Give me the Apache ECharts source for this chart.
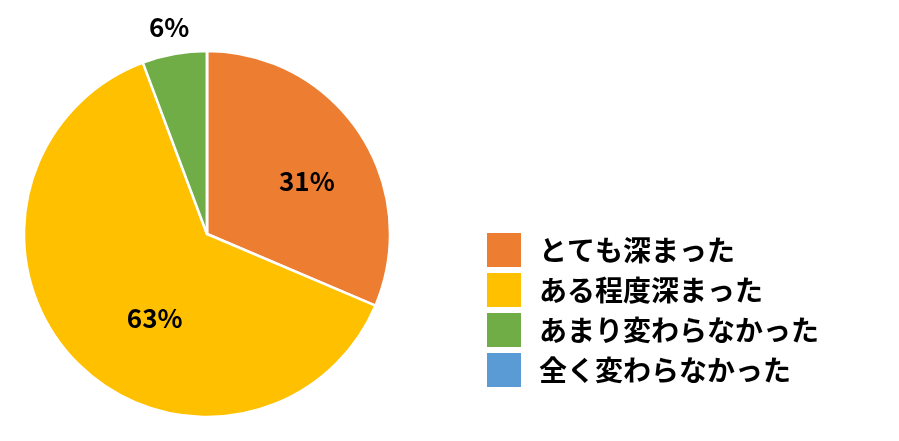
<!DOCTYPE html>
<html>
<head>
<meta charset="utf-8">
<script src="https://cdn.jsdelivr.net/npm/echarts@6/dist/echarts.min.js"></script>
<style>html,body{margin:0;padding:0;background:#fff;}#c{width:899px;height:441px;}</style>
</head>
<body>
<div id="c"></div>
<script>
const categories = ['とても深まった', 'ある程度深まった', 'あまり変わらなかった', '全く変わらなかった'];
const values = [31.4, 62.9, 5.7, 0];
const labelTexts = ['31%', '63%', '6%', ''];
const colors = ['#ED7D31', '#FFC000', '#70AD47', '#5B9BD5'];
const labelOffsets = [[21, -1], [16, 19], [-21, -114], [0, 0]];

const FONT = '"Noto Sans CJK JP", "Noto Sans", sans-serif';
const chart = echarts.init(document.getElementById('c'));
chart.setOption({
  animation: false,
  legend: {
    orient: 'vertical',
    left: 485,
    top: 231,
    padding: 0,
    itemWidth: 36,
    itemHeight: 36,
    itemGap: 2,
    icon: 'rect',
    data: categories,
    textStyle: { fontSize: 28, lineHeight: 36, fontFamily: FONT, fontWeight: 'bold', color: '#000', padding: [0, 0, 0, 12] }
  },
  series: [{
    type: 'pie',
    center: [207, 234],
    radius: 183,
    startAngle: 90,
    clockwise: true,
    avoidLabelOverlap: false,
    itemStyle: { borderColor: '#fff', borderWidth: 2.5 },
    labelLine: { show: false },
    emphasis: { disabled: true },
    data: categories.map((name, i) => ({
      name: name,
      value: values[i],
      itemStyle: { color: colors[i] },
      label: {
        show: labelTexts[i] !== '',
        position: 'inside',
        formatter: labelTexts[i],
        offset: labelOffsets[i],
        fontSize: 26,
        fontWeight: 'bold',
        fontFamily: FONT,
        color: '#000'
      }
    }))
  }]
});
</script>
</body>
</html>
